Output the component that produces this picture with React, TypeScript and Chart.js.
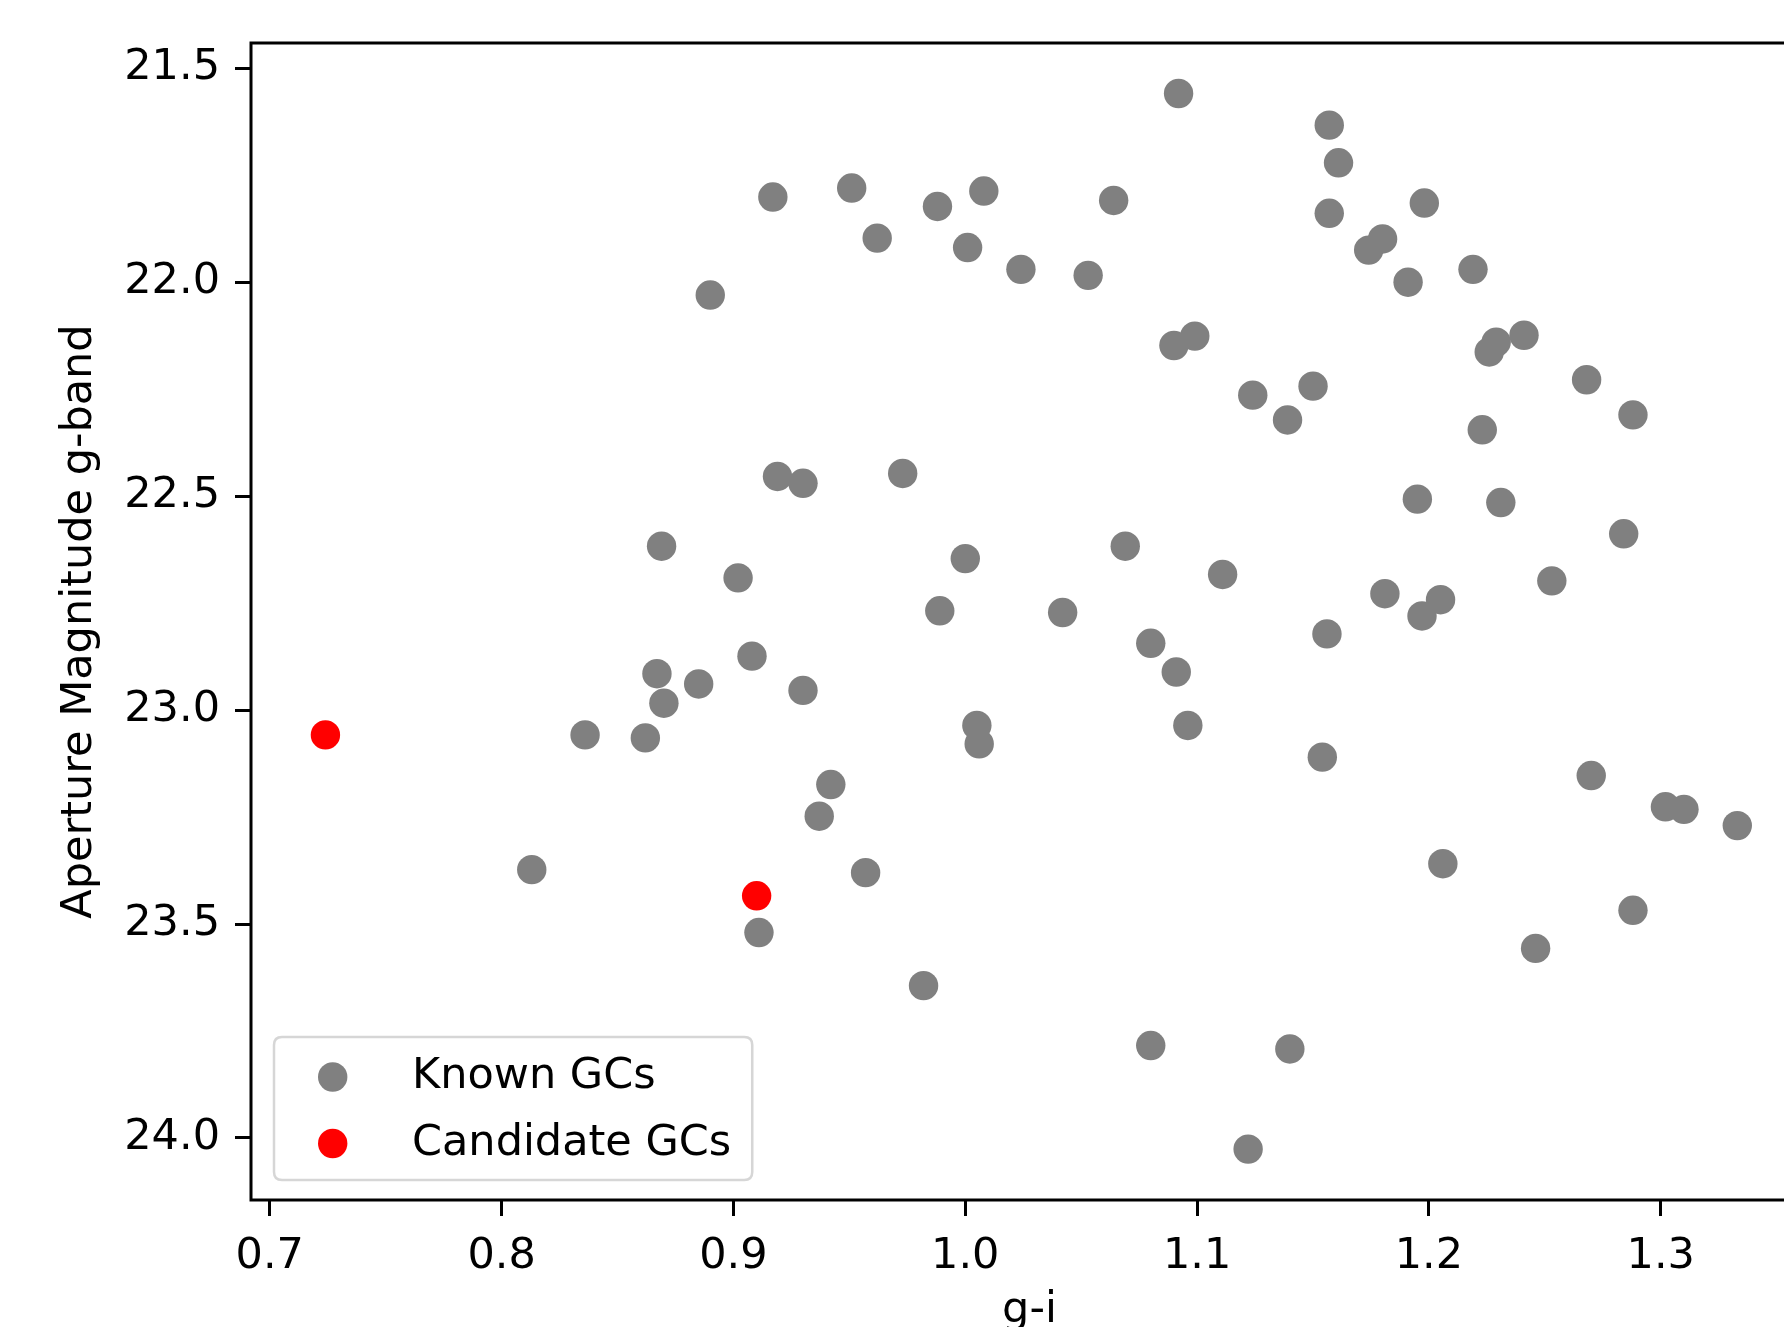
import React, { useEffect, useRef } from "react";
import { Chart, registerables } from "chart.js";

Chart.register(...registerables);

// ---- data ----
const knownX = [
  1.092, 1.157, 1.161, 1.157, 1.174, 1.180, 1.198, 1.191, 1.219, 1.226,
  1.229, 1.241, 1.150, 1.139, 1.268, 1.288, 1.223, 1.195, 1.231, 1.284,
  1.253, 1.181, 1.205, 1.197, 1.156, 1.154, 1.270, 1.302, 1.310, 1.333,
  1.206, 1.288, 1.246, 1.140, 1.080, 1.122, 1.080, 1.091, 1.096, 0.930,
  1.005, 1.006, 0.942, 0.937, 0.957, 0.911, 0.982, 0.813, 0.836, 0.862,
  0.867, 0.870, 0.885, 0.908, 0.902, 0.869, 0.919, 0.930, 0.973, 1.000,
  1.069, 1.111, 0.989, 1.042, 0.890, 0.917, 0.951, 0.962, 0.988, 1.008,
  1.001, 1.024, 1.064, 1.053, 1.090, 1.099, 1.124,
];
const knownY = [
  21.559, 21.633, 21.721, 21.839, 21.925, 21.899, 21.815, 22.000, 21.970, 22.163,
  22.140, 22.124, 22.243, 22.322, 22.228, 22.310, 22.345, 22.507, 22.515, 22.588,
  22.698, 22.728, 22.742, 22.780, 22.822, 23.110, 23.153, 23.226, 23.232, 23.270,
  23.359, 23.468, 23.557, 23.792, 23.784, 24.026, 22.844, 22.911, 23.036, 22.954,
  23.036, 23.079, 23.174, 23.248, 23.380, 23.520, 23.644, 23.373, 23.058, 23.065,
  22.915, 22.984, 22.939, 22.874, 22.691, 22.617, 22.454, 22.470, 22.447, 22.646,
  22.617, 22.683, 22.768, 22.772, 22.030, 21.801, 21.780, 21.897, 21.823, 21.787,
  21.919, 21.970, 21.809, 21.984, 22.148, 22.126, 22.264,
];
const candidateX = [0.724, 0.910];
const candidateY = [23.058, 23.434];

const xTicks = [0.7, 0.8, 0.9, 1.0, 1.1, 1.2, 1.3];
const yTicks = [21.5, 22.0, 22.5, 23.0, 23.5, 24.0];
const xLimits = [0.6919, 1.3635];
const yLimits = [21.441, 24.145];

const seriesLabels = ["Known GCs", "Candidate GCs"];
const seriesColors = ["#808080", "#ff0000"];
const xTitle = "g-i";
const yTitle = "Aperture Magnitude g-band";

// ---- styling ----
const FAMILY = "'DejaVu Sans', sans-serif";
const FS = 43;
const CANVAS_W = 1830;
const CANVAS_H = 1360;

const toPoints = (xs: number[], ys: number[]) => xs.map((x, i) => ({ x, y: ys[i] }));

const framePlugin = {
  id: "frameAndLegend",
  afterDraw(chart: any) {
    const ctx = chart.ctx as CanvasRenderingContext2D;
    const { left, top, right, bottom } = chart.chartArea;
    ctx.save();
    // axes frame
    ctx.lineWidth = 3;
    ctx.strokeStyle = "#000";
    ctx.strokeRect(left, top, right - left, bottom - top);

    // legend (lower left, inside the axes)
    ctx.font = `${FS}px ${FAMILY}`;
    const items = chart.data.datasets.map((ds: any) => ({
      label: ds.label as string,
      color: ds.backgroundColor as string,
    }));
    const textW = Math.max(...items.map((it: any) => ctx.measureText(it.label).width));
    const bh = 143;
    const bx = left + 23;
    const by = bottom - 20 - bh;
    const markerX = bx + 58.7;
    const textX = bx + 138;
    const bw = textX - bx + textW + 21;
    const r = 8;
    ctx.beginPath();
    ctx.moveTo(bx + r, by);
    ctx.lineTo(bx + bw - r, by);
    ctx.quadraticCurveTo(bx + bw, by, bx + bw, by + r);
    ctx.lineTo(bx + bw, by + bh - r);
    ctx.quadraticCurveTo(bx + bw, by + bh, bx + bw - r, by + bh);
    ctx.lineTo(bx + r, by + bh);
    ctx.quadraticCurveTo(bx, by + bh, bx, by + bh - r);
    ctx.lineTo(bx, by + r);
    ctx.quadraticCurveTo(bx, by, bx + r, by);
    ctx.closePath();
    ctx.fillStyle = "rgba(255,255,255,0.8)";
    ctx.fill();
    ctx.lineWidth = 2.5;
    ctx.strokeStyle = "rgba(204,204,204,0.8)";
    ctx.stroke();

    items.forEach((it: any, i: number) => {
      const cy = by + 40 + i * 66.5;
      ctx.beginPath();
      ctx.arc(markerX, cy, 14.7, 0, Math.PI * 2);
      ctx.fillStyle = it.color;
      ctx.fill();
      ctx.fillStyle = "#000";
      ctx.textAlign = "left";
      ctx.textBaseline = "alphabetic";
      ctx.fillText(it.label, textX, cy + 11);
    });
    ctx.restore();
  },
};

export default function App() {
  const canvasRef = useRef<HTMLCanvasElement | null>(null);

  useEffect(() => {
    if (!canvasRef.current) return;
    const font = { family: FAMILY, size: FS };
    const chart = new Chart(canvasRef.current, {
      type: "scatter",
      data: {
        datasets: [
          {
            label: seriesLabels[0],
            data: toPoints(knownX, knownY),
            backgroundColor: seriesColors[0],
            borderColor: seriesColors[0],
            pointRadius: 14.7,
            pointHoverRadius: 14.7,
            pointBorderWidth: 0,
            order: 1,
          },
          {
            label: seriesLabels[1],
            data: toPoints(candidateX, candidateY),
            backgroundColor: seriesColors[1],
            borderColor: seriesColors[1],
            pointRadius: 14.7,
            pointHoverRadius: 14.7,
            pointBorderWidth: 0,
            order: 0,
          },
        ],
      },
      options: {
        responsive: false,
        animation: false,
        devicePixelRatio: 1,
        events: [],
        layout: { padding: { left: 0, top: 43, right: 22, bottom: 0 } },
        plugins: {
          legend: { display: false },
          tooltip: { enabled: false },
        },
        scales: {
          x: {
            type: "linear",
            min: xLimits[0],
            max: xLimits[1],
            afterFit: (s: any) => {
              s.height = CANVAS_H - 1200;
            },
            afterBuildTicks: (s: any) => {
              s.ticks = xTicks.map((v) => ({ value: v }));
            },
            grid: {
              display: true,
              drawOnChartArea: false,
              drawTicks: true,
              tickLength: 16,
              tickWidth: 3,
              tickColor: "#000",
            },
            border: { display: false },
            ticks: {
              padding: 15,
              color: "#000",
              font,
              maxRotation: 0,
              minRotation: 0,
              autoSkip: false,
              callback: (v: any) => Number(v).toFixed(1),
            },
            title: {
              display: true,
              text: xTitle,
              color: "#000",
              font,
              padding: { top: 0, bottom: 23 },
            },
          },
          y: {
            type: "linear",
            reverse: true,
            min: yLimits[0],
            max: yLimits[1],
            afterFit: (s: any) => {
              s.width = 251;
            },
            afterBuildTicks: (s: any) => {
              s.ticks = yTicks.map((v) => ({ value: v }));
            },
            grid: {
              display: true,
              drawOnChartArea: false,
              drawTicks: true,
              tickLength: 16,
              tickWidth: 3,
              tickColor: "#000",
            },
            border: { display: false },
            ticks: {
              padding: 15,
              color: "#000",
              font,
              autoSkip: false,
              callback: (v: any) => Number(v).toFixed(1),
            },
            title: {
              display: true,
              text: yTitle,
              color: "#000",
              font,
              padding: { top: 54, bottom: 0 },
            },
          },
        },
      },
      plugins: [framePlugin],
    } as any);
    return () => chart.destroy();
  }, []);

  return (
    <div
      style={{
        position: "fixed",
        left: 0,
        top: 0,
        width: 1784,
        height: 1327,
        overflow: "hidden",
        background: "#fff",
      }}
    >
      <canvas
        ref={canvasRef}
        width={CANVAS_W}
        height={CANVAS_H}
        style={{ display: "block", width: CANVAS_W, height: CANVAS_H }}
      />
    </div>
  );
}
